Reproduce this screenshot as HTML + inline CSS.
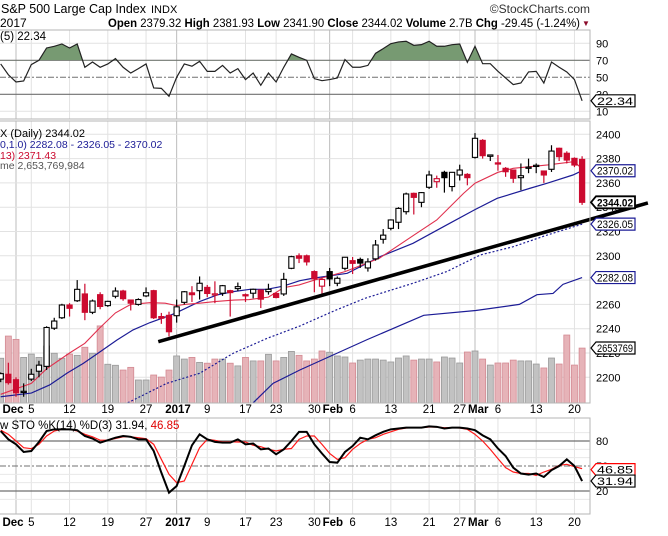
<!DOCTYPE html>
<html><head><meta charset="utf-8"><style>
html,body{margin:0;padding:0;background:#fff;}
svg{display:block;font-family:"Liberation Sans",Arial,sans-serif;}
</style></head><body>
<svg id="chart" width="668" height="536" viewBox="0 0 668 536" xmlns="http://www.w3.org/2000/svg">
<defs>
<clipPath id="clipPrice"><rect x="0" y="121" width="590" height="282"/></clipPath>
<clipPath id="clipRsi"><rect x="0" y="30" width="590" height="89"/></clipPath>
<clipPath id="clipRsiOB"><rect x="0" y="30" width="590" height="30.3"/></clipPath>
<clipPath id="clipSto"><rect x="0" y="418" width="590" height="96"/></clipPath>
</defs>
</svg>
<script>
// ---------- data ----------
const startIndex = -2;
const opens  = [2198.5,2202.5,2198,2188,2198.5,2205,2209,2240.4,2249,2259.5,2263,2268.6,2253.5,2268,2259,2266.7,2271,2263.6,2260,2267,2271.3,2250,2251,2250.7,2261.7,2269.5,2271.3,2274,2268.5,2269.2,2271.3,2273,2268,2269.2,2271.8,2270.5,2269,2268.6,2289.7,2300,2300,2287,2275,2287,2277.4,2289.7,2296,2297,2290,2297.5,2313.6,2322.6,2327.6,2336.3,2351.4,2344,2356.4,2361,2368.7,2357,2366.5,2367,2381,2395,2381.9,2376.5,2372,2370.6,2364.3,2372.5,2374,2369.8,2371.2,2388.5,2384.4,2380.2,2379.32];
const highs  = [2204,2212,2200,2195,2207,2213.6,2242,2249,2260.5,2261,2280,2277,2264,2270,2263,2274,2272,2264,2265,2274,2272,2253,2254,2264,2271,2275,2283,2276,2279,2276,2272,2278,2269,2273,2272,2277,2270,2286,2300,2302,2301,2288,2282,2290,2283,2299,2299,2298.5,2298,2313,2322,2330,2340,2352,2352,2352.5,2370,2366,2370,2369,2375,2368,2401,2396,2383,2383,2373,2371,2376,2380,2376,2370,2391,2389,2386,2381,2381.93];
const lows   = [2196,2194,2184,2184,2197,2200,2206,2239,2248,2250,2262,2247,2252,2256,2258,2265,2263,2255,2259,2266,2248,2244,2233.6,2245,2260,2262,2264,2266,2261,2267,2250,2271,2262,2265,2257,2268,2265,2267,2289,2294,2292,2270,2268,2275,2275,2288,2285,2290,2287,2296,2310,2321,2322,2334,2334,2340,2355,2356,2352,2353,2362,2358,2380,2380,2378,2370,2365,2360,2354,2368,2368,2360,2369,2378,2376,2373,2341.9];
const closes = [2203,2195.6,2187.3,2188.5,2202.5,2210,2241,2246.3,2259.5,2256.8,2272.4,2253.5,2262.8,2258.3,2262.5,2271,2264.7,2261,2264,2269.6,2249,2248.6,2237.5,2258,2270.4,2268,2277.4,2269,2268.7,2275.4,2269.7,2274.6,2267.5,2272.4,2264.3,2272.4,2265.7,2280.6,2299.3,2298,2295,2281,2280.5,2281,2281.5,2298.8,2293.8,2294,2295,2308.9,2317,2329.5,2339,2350.9,2348.1,2352,2366.5,2363.5,2364.3,2368.7,2370.6,2364.3,2396.7,2382.4,2383,2376,2369.2,2363.8,2365.9,2373,2374.5,2366.5,2386.2,2381.6,2378.8,2374.7,2344.02];
const volumes = [2.16,3.23,3.07,2.20,2.36,2.20,2.75,2.40,2.16,2.36,2.30,2.69,2.40,3.72,1.87,1.82,1.59,1.72,1.11,1.11,1.35,1.25,1.59,2.27,2.12,2.20,1.96,1.92,2.12,2.12,1.92,1.79,2.20,2.03,2.03,2.35,2.03,2.20,2.49,2.30,2.03,2.12,2.51,2.45,2.27,2.22,1.93,2.07,2.12,2.12,2.07,1.98,2.17,2.27,2.07,2.12,2.12,1.98,2.22,2.17,1.93,2.46,2.51,2.12,1.83,1.93,1.93,2.07,2.03,2.03,1.88,1.69,2.17,1.88,3.28,1.83,2.65];
const rsiVals = [65.7,53,44.5,45.7,65,70,84.5,86.5,89.2,84.5,89.2,61.8,68,61.8,65.7,72,61.8,55,60.2,65.7,37.5,37,27.6,50,65.7,63,68.8,57,57,64,55,60.2,47.3,55,40.6,55,44.5,61.8,77.5,73.5,70,48.4,46,47.3,49.2,70.8,61.8,61.8,64,78.2,83.7,89.6,91.6,92.4,87.6,88.4,92.4,86.5,86.5,88.4,89.2,67.6,86.5,66,66,57,49.2,41.4,43.3,56.3,57,43.3,68,61.8,56.3,47.3,22.34];
const stoK = [92,82,76,66.8,68,78.8,92,94,94,94,93,86,83,78,81,84,86,85,82,82,68,42,18,26,50,74.8,88,82,79,78,78,82,76,77,70,71,64,70,80,91,91,76,65,54.8,54,66.8,74,84,82,86.8,91,94,95,96,96,96,97.6,97,95,96,96,95,93,86.8,82,71,62,48,41,39.6,41,36.8,45,50,58,50,31.94];
const stoD = [93,88,80,72,70.8,76,86,92,94,94,92,88,85,81,81,83,85,85,84,82.8,76,58,40,30,32,52,72,82,80.8,79,79,78.8,78.8,74.8,73.2,70,68,70,71,82,86,86,76,65,58,60,70,77,82,84,88,91,94,95.6,96,96,96.8,96.8,96,96,95.6,94,88,80,70,58.8,48,42.8,41,41,38.8,42.8,46,50.8,52,49.2,46.85];
const emaIdx = [-2,2,4,7,9,11,13,15,17.5,19.5,21,22,24,26,28.5,30.5,33,35,37,39,43,47.5,52,55,58.5,60,63,65,69.5,73,74];
const emaVals = [2186,2195,2207,2220,2228,2241,2253,2260,2261.4,2261,2259,2260,2261,2262.3,2263.6,2264,2266,2273.8,2276,2280,2287,2298,2317,2329.5,2351.4,2359.7,2368.7,2372,2374.8,2377.5,2371.4];
const smaAIdx = [-2,2,4.4,6.7,8.8,11,13.2,15.3,17.5,19.7,20.8,24,26.3,28.4,30.6,32.8,34.9,37.1,38.8,43.3,47.6,51.9,56.3,59.9,62.9,67.2,69.4,72.8,74];
const smaAVals = [2184,2187,2193.7,2203.5,2211.5,2221,2230.7,2239,2245,2250,2252.7,2262.3,2267.8,2270.5,2272.4,2272.4,2275,2279.5,2281.5,2285.6,2299.3,2310.3,2325.4,2337.7,2347.3,2355.6,2359.7,2366.5,2370.02];
const smaBIdx = [14.6,19.7,24,28.4,32.8,37.1,41.7,45.6,49.8,51.9,56.3,60.7,65,69.4,74];
const smaBVals = [2179,2195,2203.3,2219.8,2232,2242.2,2255,2265,2273.3,2277.4,2287,2300.7,2307.5,2317,2326.05];
const smaCIdx = [31,33.6,37.1,45.9,53.3,60.1,65.8,68.1,70.2,71.5,74];
const smaCVals = [2179,2195,2206,2231,2251,2255,2260,2268,2269,2276.5,2282.08];
const trendIdx = [18.6,82.6];
const trendVals = [2229.3,2343.5];
const priceTicks = [2200,2220,2240,2260,2280,2300,2320,2340,2360,2380,2400];
const xTickIdx = [0,2,7,12,17,21,25,30,34,39,41,44,49,54,58,60,63,68,73];
const xTickLabels = ['Dec','5','12','19','27','2017','9','17','23','30','Feb','6','13','21','27','Mar','6','13','20'];
const xTickBold = [1,0,0,0,0,1,0,0,0,0,1,0,0,0,0,1,0,0,0];

// ---------- scales ----------
const X = i => 16 + i * 7.65;
const YP = v => 134.3 + (2400 - v) * 1.215;
const YV = v => 403 - v / 2.654 * 55;
const YR = v => 77.3 - (v - 50) * 0.85;
const YS = v => 466 - (v - 50) * 0.8333;

const svg = document.getElementById('chart');
const NS = 'http://www.w3.org/2000/svg';
function mk(tag, attrs, parent) {
  const e = document.createElementNS(NS, tag);
  for (const k in attrs) e.setAttribute(k, attrs[k]);
  (parent || svg).appendChild(e);
  return e;
}
function txt(s, attrs, parent) { const t = mk('text', attrs, parent); t.textContent = s; return t; }
function grp(clip) { const g = mk('g', clip ? {'clip-path': 'url(#' + clip + ')'} : {}); return g; }

const RED = '#cc0a2f', NAVY = '#1c1c96', EMA = '#e0304e';

// ---------- header ----------
let t;
t = txt('S&P 500 Large Cap Index', {x: 1, y: 13, 'font-size': 12.5, fill: '#000'});


t = txt('INDX', {x: 151, y: 13, 'font-size': 11, fill: '#000'});


t = txt('©StockCharts.com', {x: 590, y: 13, 'font-size': 12, fill: '#333', 'text-anchor': 'end'});


t = txt('2017', {x: 0, y: 27, 'font-size': 12, fill: '#000'});


t = mk('text', {x: 580, y: 27, 'font-size': 11.5, fill: '#000', 'text-anchor': 'end', textLength: 472, lengthAdjust: 'spacingAndGlyphs'});


t.innerHTML = '<tspan font-weight="bold">Open</tspan> 2379.32 <tspan font-weight="bold">High</tspan> 2381.93 <tspan font-weight="bold">Low</tspan> 2341.90 <tspan font-weight="bold">Close</tspan> 2344.02 <tspan font-weight="bold">Volume</tspan> 2.7B <tspan font-weight="bold">Chg</tspan> -29.45 (-1.24%)';
t = txt('▼', {x: 582, y: 26, 'font-size': 8, fill: '#8b0a2a'});



// ---------- vertical gridlines ----------
const monthIdx = [0, 21, 41, 60];
xTickIdx.forEach((ix, k) => {
  const dark = monthIdx.indexOf(ix) >= 0;
  [[30, 119], [121, 403], [418, 514]].forEach(([a, b]) => {
    const l = mk('line', {x1: X(ix), x2: X(ix), y1: a, y2: b, stroke: dark ? '#bdbdbd' : '#e2e2e2', 'stroke-width': 1});
    
    
  });
});

// ---------- RSI panel ----------
[10, 90].forEach(v => {
  const l = mk('line', {x1: 0, x2: 590, y1: YR(v), y2: YR(v), stroke: '#e2e2e2'});
  
  
});
[70, 30].forEach(v => {
  const l = mk('line', {x1: 0, x2: 590, y1: YR(v), y2: YR(v), stroke: '#707070', 'stroke-width': 1.2});
  
  
});
let l50 = mk('line', {x1: 0, x2: 590, y1: YR(50), y2: YR(50), stroke: '#707070', 'stroke-dasharray': '6 2 2 2'});


const rsiPts = rsiVals.map((v, k) => [X(k + startIndex), YR(v)]);
const gOB = grp('clipRsiOB');
let area = mk('polygon', {points: rsiPts.map(p => p.join(',')).join(' ') + ' ' + X(74) + ',' + YR(70) + ' ' + X(-2) + ',' + YR(70), fill: '#779a72'}, gOB);


const gR = grp('clipRsi');
let rl = mk('polyline', {points: rsiPts.map(p => p.join(',')).join(' '), fill: 'none', stroke: '#222', 'stroke-width': 1.2}, gR);


[90, 70, 50, 30, 10].forEach(v => {
  const tt = txt(String(v), {x: 596, y: YR(v) + 4, 'font-size': 11, fill: '#000'});
  
  
});
t = txt('(5) 22.34', {x: 0, y: 40, 'font-size': 11.5, fill: '#000'});



// ---------- Price panel ----------
priceTicks.forEach(v => {
  const l = mk('line', {x1: 0, x2: 590, y1: YP(v), y2: YP(v), stroke: '#e2e2e2'});
  
  
  const tt = txt(String(v), {x: 596, y: YP(v) + 4, 'font-size': 11, fill: '#000'});
  
  
});
const gP = grp('clipPrice');
volumes.forEach((v, k) => {
  const i = k + startIndex;
  const prev = k > 0 ? closes[k - 1] : opens[k];
  const down = closes[k] < prev;
  const b = mk('rect', {x: X(i) - 3, y: YV(v), width: 6, height: 403 - YV(v), fill: down ? '#e6b3b8' : '#c2c2c2', stroke: down ? '#d48a93' : '#9a9a9a', 'stroke-width': 0.8}, gP);
  
  
});
function maLine(idx, vals, attrs, name) {
  const p = mk('polyline', Object.assign({points: idx.map((ix, k) => X(ix) + ',' + YP(vals[k])).join(' '), fill: 'none'}, attrs), gP);
  
  
}
maLine(smaCIdx, smaCVals, {stroke: NAVY, 'stroke-width': 1.2}, 'ma-lower-line');
maLine(smaBIdx, smaBVals, {stroke: NAVY, 'stroke-width': 1.2, 'stroke-dasharray': '2 2'}, 'ma-dotted-line');
maLine(smaAIdx, smaAVals, {stroke: NAVY, 'stroke-width': 1.2}, 'ma-upper-line');
maLine(emaIdx, emaVals, {stroke: EMA, 'stroke-width': 1.1}, 'ema-13-line');
closes.forEach((c, k) => {
  const i = k + startIndex;
  const o = opens[k];
  const prev = k > 0 ? closes[k - 1] : o;
  const col = c < prev ? RED : '#000';
  const w = mk('line', {x1: X(i), x2: X(i), y1: YP(highs[k]), y2: YP(lows[k]), stroke: col, 'stroke-width': 1.2}, gP);
  
  
  const top = YP(Math.max(o, c)), bot = YP(Math.min(o, c));
  const filled = c < o;
  const b = mk('rect', {x: X(i) - 2.6, y: top, width: 5.2, height: Math.max(1.2, bot - top), fill: filled ? col : '#fff', stroke: col, 'stroke-width': 1.1}, gP);
  
  
});
let tl = mk('line', {x1: X(trendIdx[0]), y1: YP(trendVals[0]), x2: X(trendIdx[1]), y2: YP(trendVals[1]), stroke: '#000', 'stroke-width': 3.6});


t = txt('X (Daily) 2344.02', {x: 0, y: 137, 'font-size': 11, fill: '#000'});


t = txt('0,1.0) 2282.08 - 2326.05 - 2370.02', {x: 0, y: 148, 'font-size': 10.5, fill: NAVY});


t = txt('13) 2371.43', {x: 0, y: 159, 'font-size': 10.5, fill: RED});


t = txt('me 2,653,769,984', {x: 0, y: 169, 'font-size': 10.5, fill: '#555'});



// ---------- STO panel ----------
[10, 30, 40, 60, 70, 90].forEach(v => {
  const l = mk('line', {x1: 0, x2: 590, y1: YS(v), y2: YS(v), stroke: '#e8e8e8'});
  
  
});
[80, 20].forEach(v => {
  const l = mk('line', {x1: 0, x2: 590, y1: YS(v), y2: YS(v), stroke: '#707070', 'stroke-width': 1.2});
  
  
});
let s50 = mk('line', {x1: 0, x2: 590, y1: YS(50), y2: YS(50), stroke: '#707070', 'stroke-dasharray': '6 2 2 2'});


const gS = grp('clipSto');
let dl = mk('polyline', {points: stoD.map((v, k) => X(k + startIndex) + ',' + YS(v)).join(' '), fill: 'none', stroke: '#ff1a1a', 'stroke-width': 1.2}, gS);


let kl = mk('polyline', {points: stoK.map((v, k) => X(k + startIndex) + ',' + YS(v)).join(' '), fill: 'none', stroke: '#000', 'stroke-width': 2}, gS);


[80, 50, 20].forEach(v => {
  const tt = txt(String(v), {x: 596, y: YS(v) + 4, 'font-size': 11, fill: '#000'});
  
  
});
t = mk('text', {x: 0, y: 429, 'font-size': 11.5, fill: '#000'});


t.innerHTML = 'w STO %K(14) %D(3) 31.94, <tspan fill="#e00000">46.85</tspan>';

// ---------- panel borders ----------
[[30, 119], [121, 403], [418, 514]].forEach(([a, b]) => {
  const r = mk('rect', {x: -1, y: a, width: 591, height: b - a, fill: 'none', stroke: '#b5b5b5', 'stroke-width': 1});
  
  
});

// ---------- value tags ----------
function tag(yc, label, border, bold, color, name) {
  const g = mk('g', {});
  
  
  mk('polygon', {points: `591,${yc} 596,${yc-6} 635,${yc-6} 635,${yc+6} 596,${yc+6}`, fill: '#fff', stroke: border, 'stroke-width': bold ? 1.8 : 1.2}, g);
  txt(label, {x: 597, y: yc + 4, 'font-size': 11, fill: color, 'font-weight': bold ? 'bold' : 'normal', textLength: 36, lengthAdjust: 'spacingAndGlyphs'}, g);
}
tag(YR(22.34), '22.34', '#000', false, '#000', 'rsi-value-tag');
tag(YP(2370.02), '2370.02', NAVY, false, '#000', 'upper-ma-tag');
tag(YP(2344.02), '2344.02', '#000', true, '#000', 'close-price-tag');
tag(YP(2326.05), '2326.05', NAVY, false, '#000', 'dotted-ma-tag');
tag(YP(2282.08), '2282.08', NAVY, false, '#000', 'lower-ma-tag');
tag(YV(2.654), '2653769', '#000', false, '#000', 'volume-tag');
tag(YS(46.85) + 1, '46.85', '#ff0000', false, '#000', 'sto-d-tag');
tag(YS(31.94), '31.94', '#000', false, '#000', 'sto-k-tag');

// ---------- x axis labels ----------
[413, 526].forEach((yy, row) => {
  xTickIdx.forEach((ix, k) => {
    let x = X(ix), anchor = 'middle';
    const lab = xTickLabels[k];
    if (lab === 'Dec') x = 13;
    if (lab === '2017') x = 178;
    if (lab === 'Feb' || lab === 'Mar') { x = X(ix) - 7; anchor = 'start'; }
    const tt = txt(lab, {x: x, y: yy, 'font-size': 11.5, fill: '#000', 'text-anchor': anchor, 'font-weight': xTickBold[k] ? 'bold' : 'normal'});
    
    
  });
});
</script>
</body></html>
